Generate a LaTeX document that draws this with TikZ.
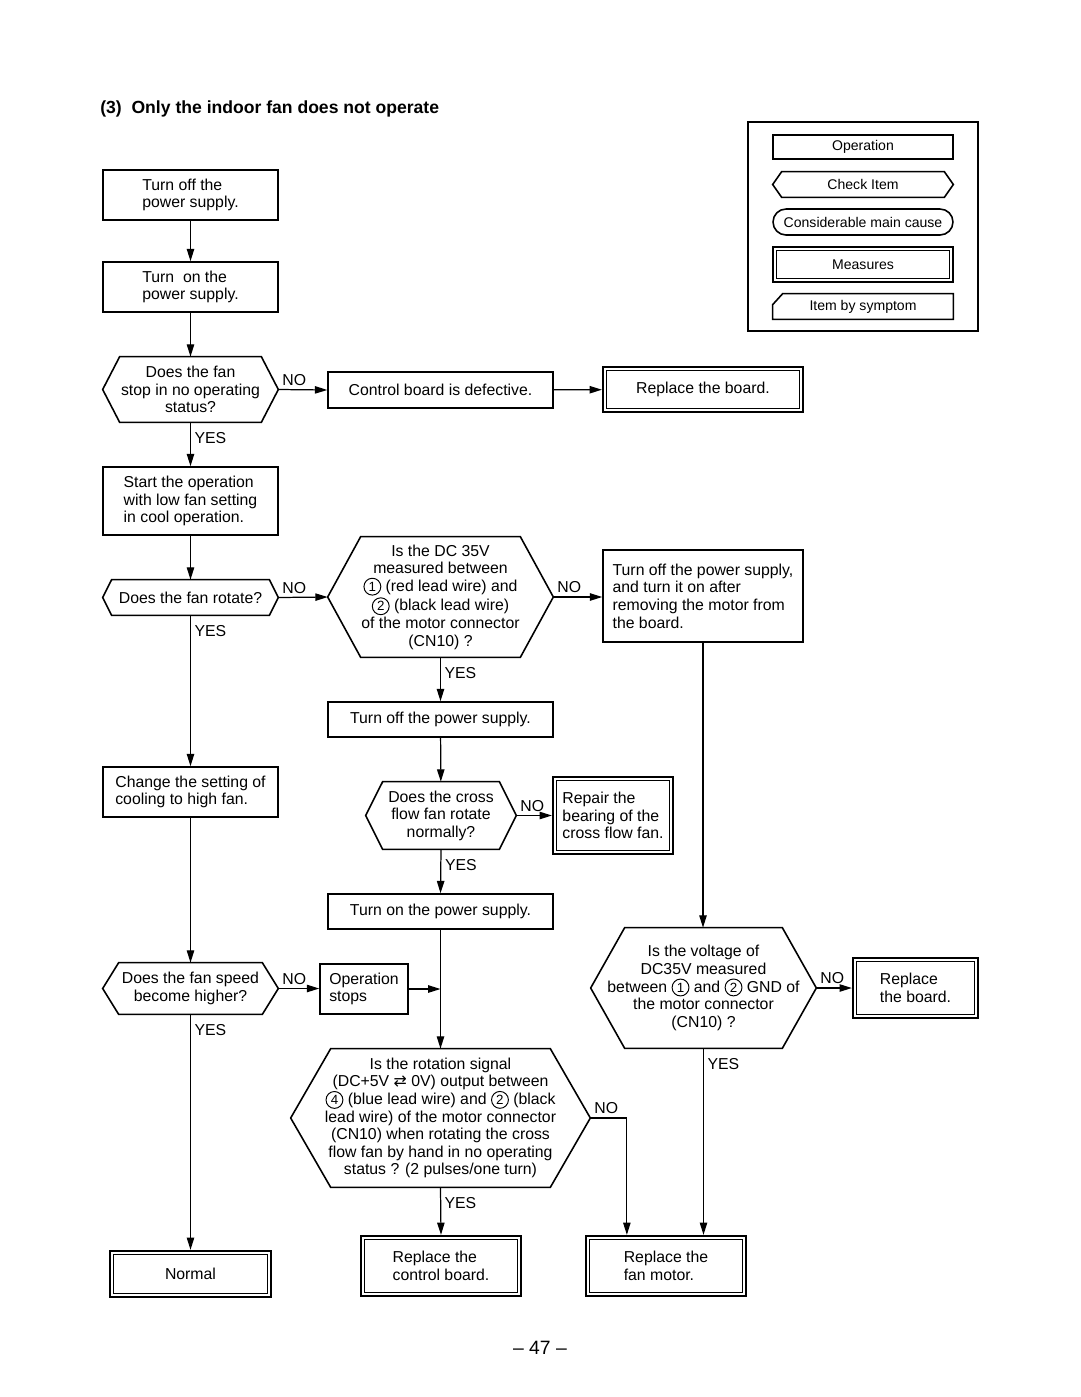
\documentclass[tikz,border=0pt]{standalone}
\usepackage{fontspec}
\setmainfont{Liberation Sans}
\newfontfamily\symfont{DejaVu Sans}
\usetikzlibrary{arrows.meta,shapes.misc}

\newcommand{\cn}[1]{\tikz[baseline=(cnum.base)]\node[circle, draw, line width=0.55pt, inner sep=0pt, minimum size=9.6pt, font=\fontsize{7.6}{8}\selectfont] (cnum) {#1};}
\newcommand{\hexpath}[2]{\draw[box] (#1.west) -- ([xshift=#2]#1.north west) -- ([xshift=-#2]#1.north east) -- (#1.east) -- ([xshift=-#2]#1.south east) -- ([xshift=#2]#1.south west) -- cycle;}
\newcommand{\inframe}[1]{\draw[thinframe] ([shift={(2.8pt,-2.8pt)}]#1.north west) rectangle ([shift={(-2.8pt,2.8pt)}]#1.south east);}

\begin{document}
\begin{tikzpicture}[x=0.02cm, y=-0.02cm,
		box/.style={draw, line width=0.9pt},
		op/.style={box, inner sep=0pt, align=left, font=\fontsize{9}{10}\selectfont},
		hex/.style={inner sep=0pt, align=center, font=\fontsize{9}{10}\selectfont},
		meas/.style={draw, line width=1.3pt, inner sep=0pt, align=left, font=\fontsize{9}{10}\selectfont},
		thinframe/.style={line width=0.5pt},
		arr/.style={line width=0.7pt, -{Triangle[length=7pt,width=4.2pt]}},
		lbl/.style={font=\fontsize{9}{10}\selectfont, inner sep=2pt},
		yes/.style={lbl, anchor=north west, pos=0, yshift=-3.4pt},
		no/.style={lbl, anchor=south west, pos=0},
		leg/.style={font=\fontsize{8}{9}\selectfont, inner sep=0pt, minimum width=3.6cm}]
			\useasboundingbox (0,0) rectangle (1080,1397);
			
			\node[anchor=west, inner sep=0pt, font=\bfseries\fontsize{10}{12}\selectfont] (title) at (100,109) {(3)\ \ Only the indoor fan does not operate};
			
			\node[draw, line width=1.3pt, minimum width=4.6cm, minimum height=4.18cm] (legend) at (863,226.5) {};
			\node[box, leg, minimum height=0.48cm] (lop) at (863,147) {Operation};
			\node[leg, minimum height=0.5cm] (lchk) at (863,184.5) {Check Item};
			\hexpath{lchk}{0.18cm}
			\node[box, leg, rounded rectangle, minimum height=0.52cm] (lcause) at (863,222) {Considerable main cause};
			\node[meas, leg, minimum height=0.7cm] (lmeas) at (863,264.5) {Measures};
			\inframe{lmeas}
			\node[leg, minimum height=0.5cm] (lsym) at (863,306.5) {Item by symptom};
			\draw[box] ([yshift=-0.22cm]lsym.north west) -- ([xshift=0.2cm]lsym.north west) -- (lsym.north east) -- (lsym.south east) -- (lsym.south west) -- cycle;
			
			\node[op, minimum width=3.5cm, minimum height=1cm] (off1) at (190.5,195) {Turn off the\\power supply.};
			\node[op, minimum width=3.5cm, minimum height=1cm] (on1) at (190.5,287) {Turn\ \ on the\\power supply.};
			\node[hex, minimum width=3.5cm, minimum height=1.3cm] (stop) at (190.5,389.5) {Does the fan\\stop in no operating\\status?};
			\hexpath{stop}{0.34cm}
			\node[op, minimum width=4.5cm, minimum height=0.72cm] (defect) at (440.5,390) {Control board is defective.};
			\node[meas, minimum width=4cm, minimum height=0.9cm] (repb1) at (703,389.5) {Replace the board.};
			\inframe{repb1}
			\node[op, minimum width=3.5cm, minimum height=1.36cm] (start) at (190.5,501) {Start the operation\\with low fan setting\\in cool operation.};
			\node[hex, minimum width=3.5cm, minimum height=0.7cm] (rot) at (190.5,597.5) {Does the fan rotate?};
			\hexpath{rot}{0.18cm}
			\node[hex, minimum width=4.5cm, minimum height=2.4cm] (dc) at (440.5,597) {Is the DC 35V\\measured between\\\cn{1} (red lead wire) and\\\cn{2} (black lead wire)\\of the motor connector\\(CN10) ?};
			\hexpath{dc}{0.66cm}
			\node[op, minimum width=4cm, minimum height=1.84cm] (remove) at (703,596) {Turn off the power supply,\\and turn it on after\\removing the motor from\\the board.};
			\node[op, minimum width=4.5cm, minimum height=0.7cm] (off2) at (440.5,719.5) {Turn off the power supply.};
			\node[op, minimum width=3.5cm, minimum height=1cm] (high) at (190.5,792) {Change the setting of\\cooling to high fan.};
			\node[hex, minimum width=3cm, minimum height=1.34cm] (cross) at (441,815.5) {Does the cross\\flow fan rotate\\normally?};
			\hexpath{cross}{0.34cm}
			\node[meas, minimum width=2.4cm, minimum height=1.54cm] (bear) at (613,815.5) {Repair the\\bearing of the\\cross flow fan.};
			\inframe{bear}
			\node[op, minimum width=4.5cm, minimum height=0.7cm] (on2) at (440.5,911.5) {Turn on the power supply.};
			\node[hex, minimum width=3.5cm, minimum height=1.02cm] (speed) at (190.5,988.5) {Does the fan speed\\become higher?};
			\hexpath{speed}{0.32cm}
			\node[op, minimum width=1.76cm, minimum height=1cm] (stops) at (364,989) {Operation\\stops};
			\node[hex, minimum width=4.5cm, minimum height=2.4cm] (volt) at (703.5,988) {Is the voltage of\\DC35V measured\\between \cn{1} and \cn{2} GND of\\the motor connector\\(CN10) ?};
			\hexpath{volt}{0.68cm}
			\node[meas, minimum width=2.5cm, minimum height=1.2cm] (repb2) at (915.5,988) {Replace\\the board.};
			\inframe{repb2}
			\node[hex, minimum width=5.98cm, minimum height=2.76cm] (sig) at (440.5,1118) {Is the rotation signal\\(DC+5V {\symfont ⇄} 0V) output between\\\cn{4} (blue lead wire) and \cn{2} (black\\lead wire) of the motor connector\\(CN10) when rotating the cross\\flow fan by hand in no operating\\status ? (2 pulses/one turn)};
			\hexpath{sig}{0.8cm}
			\node[meas, minimum width=3.22cm, minimum height=0.92cm] (normal) at (190.5,1274) {Normal};
			\inframe{normal}
			\node[meas, minimum width=3.2cm, minimum height=1.2cm] (ctrl) at (441,1266) {Replace the\\control board.};
			\inframe{ctrl}
			\node[meas, minimum width=3.2cm, minimum height=1.2cm] (motor) at (666,1266) {Replace the\\fan motor.};
			\inframe{motor}
			
			\draw[arr] (off1) -- (on1);
			\draw[arr] (on1) -- (stop);
			\draw[arr] (stop.east) -- node[no] {NO} (defect.west);
			\draw[arr] (defect) -- (repb1);
			\draw[arr] (stop.south) -- node[yes] {YES} (start.north);
			\draw[arr] (start) -- (rot);
			\draw[arr] (rot.east) -- node[no] {NO} (dc.west);
			\draw[arr] (dc.east) -- node[no] {NO} (dc.east -| remove.west);
			\draw[arr] (rot.south) -- node[yes] {YES} (high.north);
			\draw[arr] (dc.south) -- node[yes] {YES} (off2.north);
			\draw[arr] (off2) -- (cross);
			\draw[arr] (cross.east) -- node[no] {NO} (cross.east -| bear.west);
			\draw[arr] (cross.south) -- node[yes] {YES} (on2.north);
			\draw[arr] (high) -- (speed);
			\draw[arr] (speed.east) -- node[no] {NO} (speed.east -| stops.west);
			\coordinate (join) at (stops.east -| on2.south);
			\draw[arr] (stops.east) -- (join);
			\draw[arr] (on2) -- (sig);
			\draw[arr] (speed.south) -- node[yes] {YES} (normal.north);
			\draw[arr] (remove.south) -- (remove.south |- volt.north);
			\draw[arr] (volt.east) -- node[no] {NO} (volt.east -| repb2.west);
			\draw[arr] (volt.south) -- node[yes] {YES} (volt.south |- motor.north);
			\coordinate (signo) at ([xshift=0.84cm]motor.north west);
			\draw[arr] (sig.east) -| node[no] {NO} (signo);
			\draw[arr] (sig.south) -- node[yes] {YES} (ctrl.north);
			
			\node[font=\fontsize{11}{13}\selectfont] (page) at (540,1348) {– 47 –};
			
		\end{tikzpicture}
\end{document}
